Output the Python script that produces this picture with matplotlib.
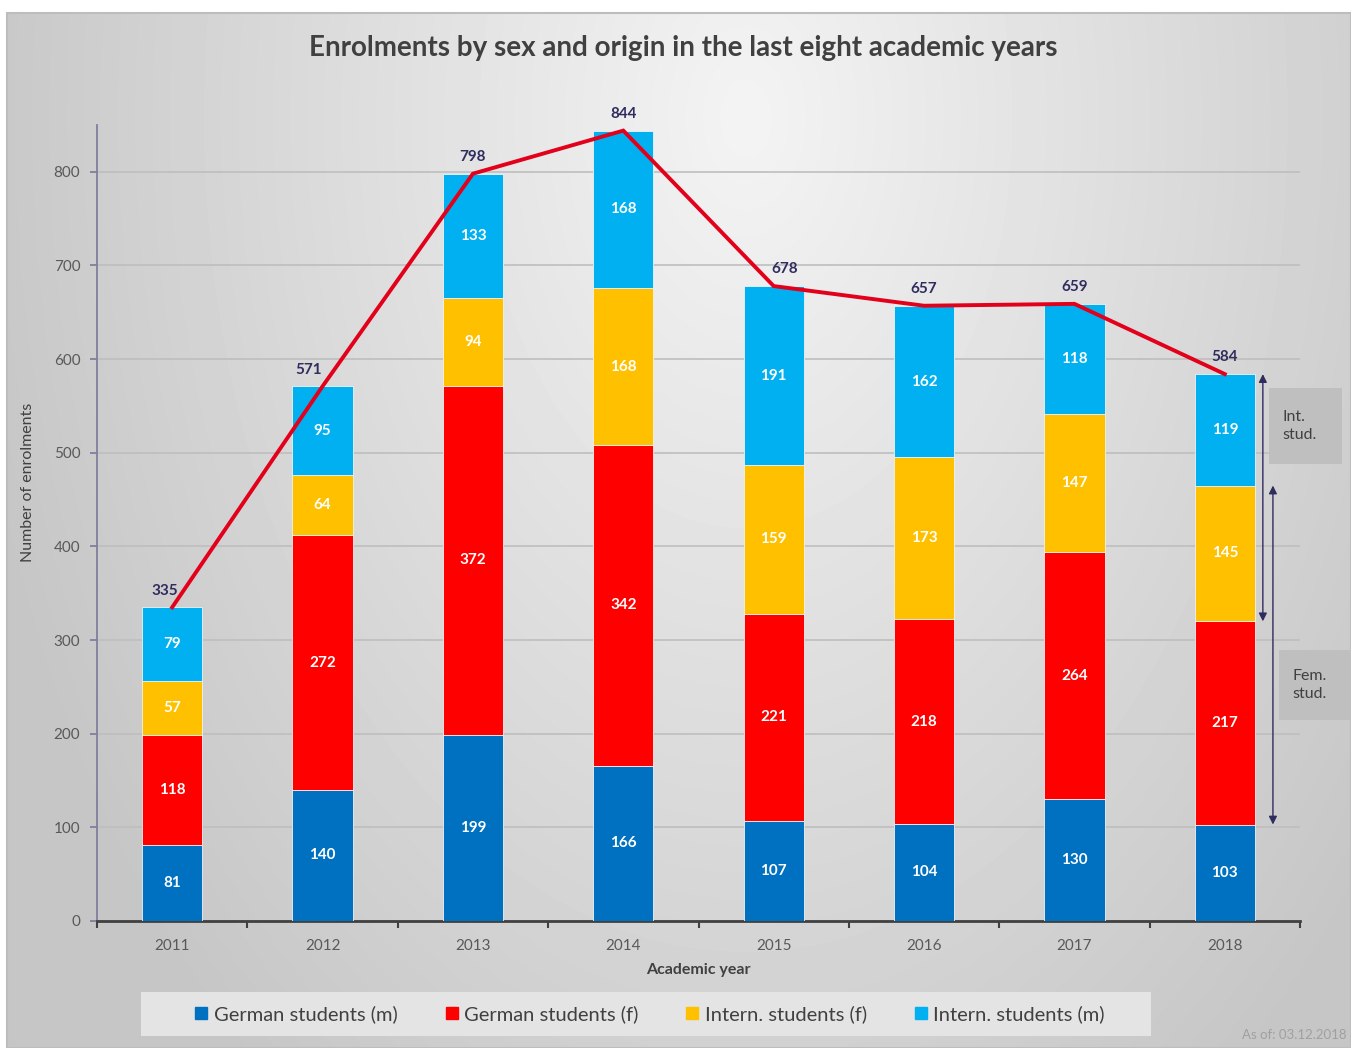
import numpy as np
from matplotlib import pyplot as plt
from matplotlib.patches import Rectangle
from matplotlib.lines import Line2D

plt.rcParams['font.family'] = ['Lato', 'DejaVu Sans']

years = ['2011', '2012', '2013', '2014', '2015', '2016', '2017', '2018']
german_m = [81, 140, 199, 166, 107, 104, 130, 103]
german_f = [118, 272, 372, 342, 221, 218, 264, 217]
intern_f = [57, 64, 94, 168, 159, 173, 147, 145]
intern_m = [79, 95, 133, 168, 191, 162, 118, 119]
series_names = ['German students (m)', 'German students (f)',
                'Intern. students (f)', 'Intern. students (m)']
colors = ['#0070C0', '#FF0000', '#FFC000', '#00B0F0']
# sideways nudge (points) of the total labels so they clear the red line
total_dx = [-5, -10, 0, 0, 8, 0, 0, 0]

W, H = 1351, 1048
fig = plt.figure(figsize=(W / 100, H / 100), dpi=100, facecolor='white')


def fx(px):
    return px / W


def fy(py):
    return 1 - py / H


# background panel with soft radial gradient
bg = fig.add_axes([fx(7), 0, 1 - fx(7), fy(13)], zorder=-10)
gx, gy = np.meshgrid(np.linspace(0, 1, 300), np.linspace(0, 1, 240))
d = np.sqrt(((gx - 0.55) * 1.6) ** 2 + ((gy - 0.1) * 0.8) ** 2)
val = 0.955 - 0.19 * np.clip(d, 0, 0.95)
bg.imshow(val, cmap='gray', vmin=0, vmax=1, aspect='auto',
          extent=[0, 1, 1, 0], interpolation='bilinear')
bg.set_xlim(0, 1)
bg.set_ylim(1, 0)
bg.axis('off')
fig.patches.append(Rectangle((fx(7), 0), 1 - fx(7), fy(13), transform=fig.transFigure,
                             fill=False, edgecolor='#BDBDBD', lw=1.5, zorder=-5))

ax = fig.add_axes([fx(97), fy(921), fx(1300) - fx(97), fy(125) - fy(921)])
ax.patch.set_alpha(0)

x = np.arange(len(years))
bottom = np.zeros(len(years))
for vals, col in zip([german_m, german_f, intern_f, intern_m], colors):
    bars = ax.bar(x, vals, width=0.4, bottom=bottom, color=col,
                  edgecolor='#F2F2F2', linewidth=0.6, zorder=3)
    for xi, b, v in zip(x, bottom, vals):
        ax.text(xi, b + v / 2, str(v), ha='center', va='center', color='white',
                fontsize=11, fontweight='bold', zorder=5)
    bottom = bottom + np.array(vals)

totals = bottom
ax.plot(x, totals, color='#E2001A', lw=2.8, zorder=4, solid_joinstyle='miter')
for xi, t, dx in zip(x, totals, total_dx):
    ax.annotate(str(int(t)), (xi, t), xytext=(dx, 7), textcoords='offset points',
                ha='center', va='bottom', color='#2F2C5E', fontsize=11,
                fontweight='bold', zorder=5)

ax.set_xlim(-0.5, 7.5)
ax.set_ylim(0, 850)
ax.set_yticks(range(0, 900, 100))
ax.yaxis.grid(True, color='#BEBEBE', lw=1.2, zorder=0)
ax.set_axisbelow(True)
ax.set_xticks(x)
ax.set_xticklabels(years)
ax.set_xticks(np.arange(-0.5, 8, 1), minor=True)
ax.tick_params(axis='x', which='major', length=0, pad=13, labelsize=11, labelcolor='#595959')
ax.tick_params(axis='x', which='minor', length=5, width=1.5, color='#404040', direction='out')
ax.tick_params(axis='y', length=5, width=1.3, color='#7F7FA0', labelsize=11,
               labelcolor='#595959', pad=7)
for s in ['top', 'right']:
    ax.spines[s].set_visible(False)
ax.spines['left'].set_color('#7F7FA0')
ax.spines['left'].set_linewidth(1.3)
ax.spines['bottom'].set_color('#404040')
ax.spines['bottom'].set_linewidth(2)

ax.set_ylabel('Number of enrolments', fontsize=11.5, color='#404040')
ax.yaxis.set_label_coords(-0.0515, 0.551)
ax.set_xlabel('Academic year', fontsize=11.5, fontweight='bold', color='#404040')
ax.xaxis.set_label_coords(0.4996, -0.053)

fig.text(fx(683), fy(48), 'Enrolments by sex and origin in the last eight academic years',
         ha='center', va='center', fontsize=20, fontweight='bold', color='#404040')

# annotation arrows on the right
arrow_kw = dict(arrowstyle='<|-|>', color='#2F2C5E', lw=1.0, mutation_scale=12,
                shrinkA=0, shrinkB=0)
ax.annotate('', xy=(7.253, totals[-1]), xytext=(7.253, german_m[-1] + german_f[-1]),
            arrowprops=arrow_kw, annotation_clip=False)
ax.annotate('', xy=(7.32, german_m[-1] + german_f[-1] + intern_f[-1]),
            xytext=(7.32, german_m[-1]), arrowprops=arrow_kw, annotation_clip=False)

fig.patches.append(Rectangle((fx(1269), fy(464)), fx(1342) - fx(1269), fy(388) - fy(464),
                             transform=fig.transFigure, facecolor='#BFBFBF', edgecolor='none'))
fig.patches.append(Rectangle((fx(1279), fy(720)), fx(1351) - fx(1279), fy(650) - fy(720),
                             transform=fig.transFigure, facecolor='#BFBFBF', edgecolor='none'))
fig.text(fx(1282), fy(426), 'Int.\nstud.', ha='left', va='center', fontsize=11.5,
         color='#404040', linespacing=1.3)
fig.text(fx(1292), fy(685), 'Fem.\nstud.', ha='left', va='center', fontsize=11.5,
         color='#404040', linespacing=1.3)

# legend box
fig.patches.append(Rectangle((fx(141), fy(1036)), fx(1151) - fx(141), fy(992) - fy(1036),
                             transform=fig.transFigure, facecolor='#E4E4E4', edgecolor='none'))
handles = [Line2D([], [], ls='none', marker='s', markersize=8, color=c) for c in colors]
fig.legend(handles, series_names, loc='center', bbox_to_anchor=(fx(650), fy(1014)),
           ncol=4, frameon=False, fontsize=14.5, handlelength=0.6, handletextpad=0.3,
           columnspacing=2.4, labelcolor='#404040')

fig.text(fx(1347), fy(1035), 'As of: 03.12.2018', ha='right', va='center',
         fontsize=9.5, color='#A0A0A0')

plt.savefig('out.png', dpi=100)
